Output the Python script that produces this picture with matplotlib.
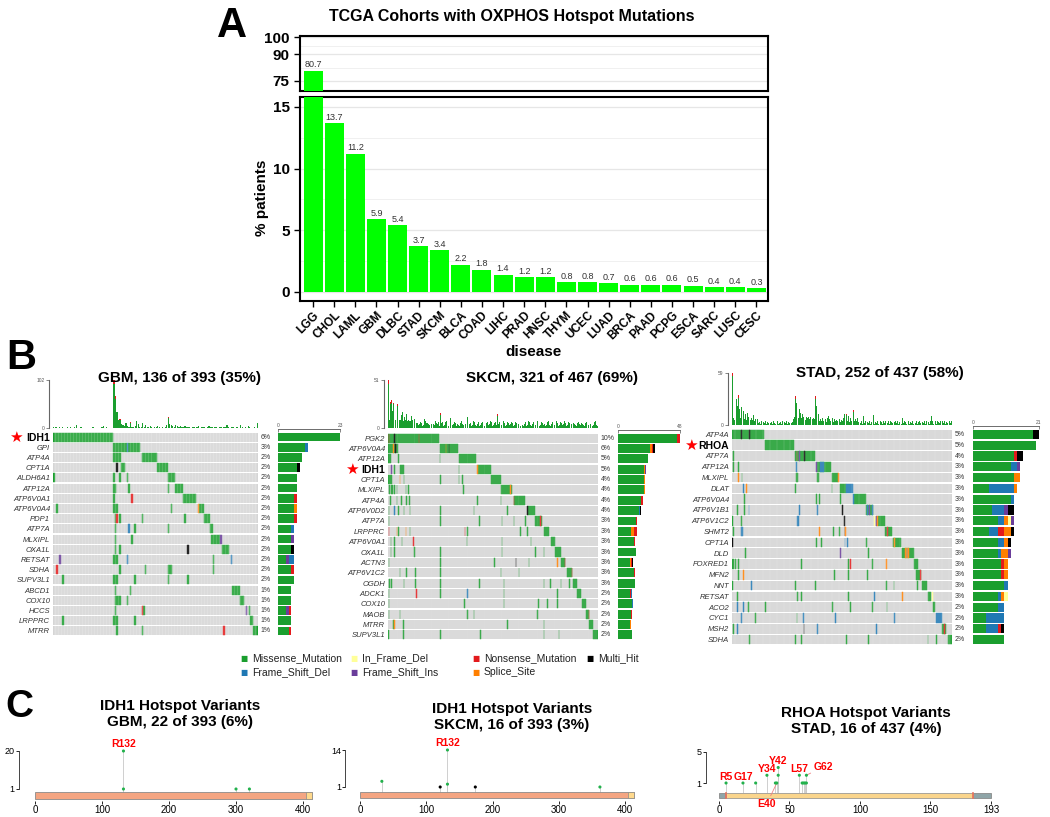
import re
import numpy as np
import matplotlib
matplotlib.use("Agg")
import matplotlib.pyplot as plt
from matplotlib.patches import Rectangle

plt.rcParams['font.family'] = ['Liberation Sans', 'DejaVu Sans']

# ---------------- Panel A data ----------------
diseases = ["LGG", "CHOL", "LAML", "GBM", "DLBC", "STAD", "SKCM", "BLCA", "COAD", "LIHC", "PRAD",
            "HNSC", "THYM", "UCEC", "LUAD", "BRCA", "PAAD", "PCPG", "ESCA", "SARC", "LUSC", "CESC"]
pct_patients = [80.7, 13.7, 11.2, 5.9, 5.4, 3.7, 3.4, 2.2, 1.8, 1.4, 1.2,
                1.2, 0.8, 0.8, 0.7, 0.6, 0.6, 0.6, 0.5, 0.4, 0.4, 0.3]

# ---------------- Panel B data ----------------
# codes: M Missense, D Frame_Shift_Del, I Frame_Shift_Ins, F In_Frame_Del,
#        N Nonsense, S Splice_Site, H Multi_Hit
gbm_n = 136
gbm_genes = ["IDH1", "GPI", "ATP4A", "CPT1A", "ALDH6A1", "ATP12A", "ATP6V0A1", "ATP6V0A4", "PDP1",
             "ATP7A", "MLXIPL", "OXA1L", "RETSAT", "SDHA", "SUPV3L1", "ABCD1", "COX10", "HCCS",
             "LRPPRC", "MTRR"]
gbm_pct = [6, 3, 2, 2, 2, 2, 2, 2, 2, 2, 2, 2, 2, 2, 2, 1, 1, 1, 1, 1]
gbm_rows = ["0-40M", "40-49M 49D 50-58M", "40-45M 59-69M", "42H 45-48M 69-76M",
            "0M 40M 44M 49M 76-81M", "40-42M 50M 76M 81-86M", "40M 52N 86-95M",
            "2M 40-43M 78M 96S 97-100M", "41M 42N 44M 59M 87M 100-104M", "41M 50D 54M 76M 104-106M",
            "41M 52M 105-111M 111I", "41M 44M 89H 112-117M", "4I 40-43M 49D 106M 118D",
            "2N 44M 61M 76-79M 106M", "6M 40-43M 54M 76M 89M", "41M 51M 119-124M",
            "41-45M 49M 124-127M", "41M 59N 60M 128I 130M", "6M 40-43M 54M 131-133M",
            "42M 59M 113N 133-136M"]
gbm_bars = ["M23", "M10 D1", "M9", "M7 H1", "M7", "M7", "M6 N1", "M6 S1", "M6 N1", "M5 D1",
            "M5 I1", "M5 H1", "M3 I1 D2", "M5 N1", "M6", "M5", "M5", "M3 I1 N1", "M5", "M4 N1"]
gbm_tmb = [2, 3, 2, 1, 2, 1, 2, 1, 1, 2, 1, 2, 1, 1, 2, 6, 1, 1, 2, 1,
           1, 1, 1, 1, 1, 1, 2, 1, 1, 1, 1, 1, 2, 4, 1, 2, 1, 1, 1, 1,
           102, 68, 35, 18, 20, 8, 6, 5, 10, 4, 3, 12, 3, 2, 4, 14, 8, 2, 3, 10,
           2, 6, 3, 2, 5, 2, 1, 3, 2, 4, 2, 1, 3, 1, 2, 6, 24, 9, 6, 5,
           3, 6, 4, 2, 5, 2, 3, 4, 3, 2, 2, 1, 3, 2, 1, 2, 4, 1, 2, 3,
           2, 1, 3, 5, 2, 2, 1, 3, 2, 1, 2, 2, 1, 3, 2, 6, 2, 1, 3, 2,
           1, 2, 2, 1, 6, 2, 1, 2, 1, 4, 2, 1, 1, 2, 1, 10]
gbm_tmb_top = {40: 8, 41: 6, 44: 2, 51: 2, 76: 3}
gbm_tmb_max = 102
gbm_bar_max = 23

skcm_n = 321
skcm_genes = ["PGK2", "ATP6V0A4", "ATP12A", "IDH1", "CPT1A", "MLXIPL", "ATP4A", "ATP6V0D2", "ATP7A",
              "LRPPRC", "ATP6V0A1", "OXA1L", "ACTN3", "ATP6V1C2", "OGDH", "ADCK1", "COX10", "MAOB",
              "MTRR", "SUPV3L1"]
skcm_pct = [10, 6, 5, 5, 4, 4, 4, 4, 3, 3, 3, 3, 3, 3, 3, 2, 2, 2, 2, 2]
skcm_rows = ["0-78M 1N 9H 47N", "0-16M 8S 11H 79-107M 88S 93H", "0-4M 16M 79M 108-135M",
             "5I 9-11M 18-24M 108M 136S 137-157M", "0-6M 18S 24M 80M 108M 113M 158-173M",
             "1-3M 5-7M 9-11M 13M 27M 30-32M 115M 173-190M 187S",
             "3M 13M 20M 28M 32M 136M 172M 192N 193-210M",
             "1M 9D 16M 24M 33M 80M 131M 182M 213H 214-225M",
             "1M 80M 139M 174M 192M 210M 225-236M 233N",
             "1N 13S 16M 27S 33M 117N 121M 202M 213M 238-246M",
             "4M 9M 21M 38N 120M 174M 218M 249-256M", "4M 9M 40M 80M 174M 225M 238M 256-264M",
             "1M 80M 162M 195H 215M 259S 264-271M 270N", "18M 28M 42M 80M 172M 200M 273-282M 281N",
             "1-3M 5M 24M 42M 80M 139M 177M 238M 248M 264M 277M 283-289M",
             "1M 43N 80M 121D 177M 259M 289-295M", "1M 116M 177M 230M 243M 259M 296-303M",
             "1M 18M 121M 131M 228M 303-308M 307N", "8M 9S 23M 182M 238M 307-314M",
             "0M 23M 80M 141M 238M 261M 314-321M"]
skcm_bars = ["M46 N2", "M25 S1 N1 H2", "M23", "M20 S1 I1", "M20 S1", "M20 S1", "M18 N1", "M16 D1 H1",
             "M14 N1", "M10 S2 N3", "M12 N1", "M14", "M9 S1 N1 H1", "M12 N1", "M13", "M9 N1 D1",
             "M11 D1", "M10 N1", "M9 S1", "M11"]
skcm_tmb_digits = ["9999899989", "9989899898", "9887878787", "6878767867", "4635253746",
                   "3524364753", "5463524354", "6372543625", "3546253647", "3524362537",
                   "4635254362", "5374635243", "5362435263", "7463524362", "5354637243",
                   "5263547362", "4352635243", "6253647352", "4362537463", "5243625364",
                   "3524635243", "6253746352", "4362536473", "5243625364", "2536473524",
                   "3625364735", "2436253647", "3524362536", "4735243625", "3647352436",
                   "2536473524", "3625364735", "2"]
skcm_tmb_peaks = {0: 51, 3: 28, 4: 22, 5: 30, 6: 18, 8: 27, 10: 20, 12: 16, 14: 25, 16: 15,
                  18: 22, 20: 14, 22: 17, 25: 12, 28: 15, 30: 11, 35: 13, 40: 10, 55: 10,
                  80: 16, 95: 11, 121: 12, 140: 10, 167: 15, 200: 12, 238: 18, 261: 12, 290: 10}
skcm_tmb_top = {0: 4, 3: 2, 5: 3, 8: 2, 14: 2, 80: 2, 167: 2, 238: 3, 261: 2}
skcm_tmb_max = 51
skcm_bar_max = 48

stad_n = 252
stad_genes = ["ATP4A", "RHOA", "ATP7A", "ATP12A", "MLXIPL", "DLAT", "ATP6V0A4", "ATP6V1B1",
              "ATP6V1C2", "SHMT2", "CPT1A", "DLD", "FOXRED1", "MFN2", "NNT", "RETSAT", "ACO2",
              "CYC1", "MSH2", "SDHA"]
stad_pct = [5, 5, 4, 3, 3, 3, 3, 3, 3, 3, 3, 3, 3, 3, 3, 3, 2, 2, 2, 2]
stad_rows = ["0-37M 10H 20H", "38-71M", "1M 72-95M 74N 77I 83H",
             "1M 7M 73D 96I 97-113M 101-105D", "7S 11M 73-76M 97-100M 114-121M 121S",
             "13D 16S 72M 114M 124-131M 131-139D", "14M 96M 100M 124M 139D 140-153M",
             "6M 14M 19D 77D 97D 126H 154-161M 155D 157I 160D",
             "0M 10M 74-77D 128H 163F 165I 166S 167-175M",
             "1M 10-13D 100S 116M 123M 129H 130S 175-183M 178N",
             "0H 96M 102M 129-130D 132D 154M 184-194M 186S",
             "15M 124I 156M 195-208M 198-203S 200D",
             "0-2M 4M 7M 79M 133M 135N 160M 176S 209-213M",
             "7M 13S 117M 133M 155M 211-217M 215N",
             "0M 22D 72M 95M 176M 185M 212M 218-223M",
             "6M 74-76M 79M 133M 163D 195S 224-228M 229F",
             "6D 13D 18M 38M 115M 135M 160M 177M 230-233M",
             "10D 26M 74M 81D 118D 186D 234-240D",
             "1M 6D 82H 97D 165D 241-245M 243N",
             "20M 72M 79M 131M 156M 224M 234M 247-252M"]
stad_bars = ["M19 H2", "M20", "M13 N1 H2", "M12 D2 I1", "M13 S2", "M5 D8 S1", "M12 D1",
             "M6 D4 I1 H2", "M8 D2 S1 F1 I1", "M5 D3 N2 S2 H1", "M8 D2 S1 H1", "M8 D1 S2 I1",
             "M9 N1 S1", "M9 N1 S1", "M10 D1", "M8 D1 S1 F1", "M8 D2", "M4 D6", "M4 D4 N1 H1",
             "M10"]
stad_tmb_digits = ["9868987998", "7968796897", "9686757867", "2314213241", "3214231421",
                   "3241231421", "3241321423", "7989878968", "7978698979", "8678796787",
                   "5748564738", "5746583746", "5847365847", "5647385746", "5748335241",
                   "3241532413", "5241324152", "4315241324", "1532413524", "1324152431",
                   "5241324153", "2413524132", "4152431524", "1324153241", "3524132415", "24"]
stad_tmb_peaks = {0: 59, 5: 30, 6: 22, 7: 34, 8: 18, 10: 20, 11: 14, 13: 16, 15: 12, 17: 14,
                  19: 10, 24: 11, 72: 33, 73: 25, 74: 20, 75: 24, 77: 18, 78: 14, 80: 12,
                  95: 33, 96: 22, 97: 15, 99: 12, 110: 10, 128: 12, 131: 13, 133: 10, 139: 17,
                  146: 12, 150: 10, 162: 11, 176: 10, 195: 8, 228: 10, 232: 9}
stad_tmb_top = {0: 3, 7: 3, 72: 3, 95: 3, 139: 2, 131: 2}
stad_tmb_max = 59
stad_bar_max = 21

legend_labels = ["Missense_Mutation", "In_Frame_Del", "Nonsense_Mutation", "Multi_Hit",
                 "Frame_Shift_Del", "Frame_Shift_Ins", "Splice_Site"]
legend_codes = ["M", "F", "N", "H", "D", "I", "S"]

# ---------------- Panel C data ----------------
idh1_gbm_pos = [132, 132, 300, 320]
idh1_gbm_cnt = [20, 1, 1, 1]
idh1_gbm_type = ["M", "M", "M", "M"]
idh1_skcm_pos = [33, 121, 132, 132, 174, 362]
idh1_skcm_cnt = [3, 1, 14, 2, 1, 1]
idh1_skcm_type = ["M", "H", "M", "M", "H", "M"]
rhoa_stad_pos = [5, 17, 26, 34, 40, 41, 42, 42, 57, 59, 60, 61, 62, 62]
rhoa_stad_cnt = [1, 1, 1, 2, 1, 1, 2, 3, 2, 1, 1, 1, 1, 2]
rhoa_stad_type = ["M"] * 14
idh1_len = 414
rhoa_len = 193

COL = {'M': '#1A9E2E', 'D': '#1F78B4', 'I': '#6A3D9A', 'F': '#FFFF99',
       'N': '#E31A1C', 'S': '#FF7F00', 'H': '#000000'}
GRAY = '#D5D5D5'

W, H = 1050, 817
fig = plt.figure(figsize=(W / 100, H / 100), dpi=100)


def px_axes(x0, y0, x1, y1):
    return fig.add_axes([x0 / W, 1 - y1 / H, (x1 - x0) / W, (y1 - y0) / H])


def ftext(x, y, s, **kw):
    return fig.text(x / W, 1 - y / H, s, **kw)


# ================= Panel A =================
ftext(232, 26, "A", fontsize=30, fontweight='bold', ha='center', va='center')
ftext(512, 17, "TCGA Cohorts with OXPHOS Hotspot Mutations", fontsize=11.5, fontweight='bold',
      ha='center', va='center')
axT = px_axes(300, 36, 768, 91)
axB = px_axes(300, 97, 768, 301)
xs = np.arange(len(diseases))
for ax in (axT, axB):
    ax.bar(xs, pct_patients, width=0.9, color='#00FF00', zorder=3)
    ax.set_xlim(-0.62, len(diseases) - 0.45)
    for s in ax.spines.values():
        s.set_linewidth(1.5)
    ax.tick_params(axis='y', labelsize=11, length=4, width=1)
axT.set_ylim(69, 100.6)
axT.set_yticks([75, 90, 100])
axT.set_yticks([82.5, 95], minor=True)
axT.set_xticks([])
axB.set_ylim(-0.73, 15.8)
axB.set_yticks([0, 5, 10, 15])
axB.set_yticks([2.5, 7.5, 12.5], minor=True)
for ax in (axT, axB):
    ax.grid(axis='y', which='major', color='#E6E6E6', lw=0.9, zorder=0)
    ax.grid(axis='y', which='minor', color='#F0F0F0', lw=0.7, zorder=0)
    ax.tick_params(axis='y', which='minor', length=0)
    for lab in ax.get_yticklabels():
        lab.set_fontweight('bold')
axB.set_xticks(xs)
axB.set_xticklabels(diseases, rotation=45, ha='right', rotation_mode='anchor',
                    fontsize=8.5, fontweight='bold')
axB.tick_params(axis='x', length=4, width=1, pad=2)
for i, v in enumerate(pct_patients):
    ax = axT if v > 15.8 else axB
    ax.annotate(f"{v}", (i, v), xytext=(0, 1), textcoords='offset points', ha='center',
                va='bottom', fontsize=6.5, color='#333333')
ftext(534, 352, "disease", fontsize=11, fontweight='bold', ha='center', va='center')
ftext(262, 198, "% patients", fontsize=11, fontweight='bold', ha='center', va='center',
      rotation=90)

# ================= Panel B =================
ftext(21, 358, "B", fontsize=30, fontweight='bold', ha='center', va='center')


def parse_row(s):
    out = []
    for a, b, c in re.findall(r'(\d+)(?:-(\d+))?([A-Z])', s):
        a = int(a)
        b = int(b) if b else a + 1
        out.append((a, b, c))
    out.sort(key=lambda t: 0 if t[2] == 'M' else 1)
    return out


def oncoplot(n, genes, pcts, rows, bars, tmb, tmb_top, tmb_max, bar_max, star_gene,
             title, title_xy, tmb_box, mat_box, bar_box, star_x, vl_alpha, vl_lw):
    ng = len(genes)
    ftext(title_xy[0], title_xy[1], title, fontsize=11, fontweight='bold', ha='center',
          va='center')
    # matrix
    axM = px_axes(*mat_box)
    axM.set_xlim(0, n)
    axM.set_ylim(ng, 0)
    for r in range(ng):
        axM.add_patch(Rectangle((0, r + 0.06), n, 0.88, facecolor=GRAY, lw=0, zorder=1))
        for a, b, c in parse_row(rows[r]):
            axM.add_patch(Rectangle((a, r + 0.06), b - a, 0.88, facecolor=COL[c],
                                    edgecolor=COL[c], lw=0.35, zorder=2))
    axM.vlines(np.arange(1, n), 0, ng, color='white', lw=vl_lw, alpha=vl_alpha, zorder=3)
    for s in axM.spines.values():
        s.set_visible(False)
    axM.set_xticks([])
    axM.set_yticks(np.arange(ng) + 0.5)
    axM.set_yticklabels(genes)
    axM.tick_params(axis='y', length=0, pad=2)
    for lab, g in zip(axM.get_yticklabels(), genes):
        if g == star_gene:
            lab.set_fontsize(7.5)
            lab.set_fontweight('bold')
            lab.set_color('black')
        else:
            lab.set_fontsize(5.5)
            lab.set_fontstyle('italic')
            lab.set_color('#333333')
    for r, p in enumerate(pcts):
        axM.annotate(f"{p}%", (n, r + 0.5), xytext=(2, 0), textcoords='offset points',
                     fontsize=5, va='center', ha='left', color='#333333', annotation_clip=False)
    si = genes.index(star_gene)
    rh = (mat_box[3] - mat_box[1]) / ng
    ftext(star_x, mat_box[1] + (si + 0.5) * rh, "\u2605", color='red', fontsize=11,
          ha='center', va='center', family=['DejaVu Sans'])
    # right bars
    axR = px_axes(*bar_box)
    axR.set_xlim(0, bar_max)
    axR.set_ylim(ng, 0)
    for r, comp in enumerate(bars):
        left = 0
        for tok in comp.split():
            c, k = tok[0], int(tok[1:])
            axR.barh(r + 0.5, k, left=left, height=0.86, color=COL[c], lw=0, clip_on=False)
            left += k
    for k in ('left', 'right', 'bottom'):
        axR.spines[k].set_visible(False)
    axR.spines['top'].set_color('#555555')
    axR.spines['top'].set_linewidth(0.6)
    axR.spines['top'].set_position(('outward', 2))
    axR.set_yticks([])
    axR.xaxis.tick_top()
    axR.set_xticks([0, bar_max])
    axR.tick_params(axis='x', labelsize=3.5, length=2, width=0.5, direction='in', pad=1,
                    colors='#555555')
    # tmb
    axU = px_axes(*tmb_box)
    vals = np.array(tmb, dtype=float)
    top = np.array([tmb_top.get(i, 0) for i in range(len(vals))], dtype=float)
    base = vals - top
    idx = np.arange(len(vals)) + 0.5
    axU.bar(idx, base, width=0.85, color=COL['M'], lw=0)
    axU.bar(idx, top, bottom=base, width=0.85, color=COL['N'], lw=0)
    axU.set_xlim(0, n)
    axU.set_ylim(0, tmb_max)
    for k in ('top', 'right', 'bottom'):
        axU.spines[k].set_visible(False)
    axU.spines['left'].set_color('#666666')
    axU.spines['left'].set_linewidth(0.8)
    axU.spines['left'].set_position(('outward', 3))
    axU.set_xticks([])
    axU.set_yticks([0, tmb_max])
    axU.tick_params(axis='y', labelsize=3.5, length=2, width=0.5, pad=1, colors='#555555')
    axU.axhline(0, color='#7FCF7F', lw=0.6)


def digits_to_tmb(chunks, peaks):
    v = [int(ch) for ch in "".join(chunks)]
    for k, h in peaks.items():
        v[k] = h
    return v


oncoplot(gbm_n, gbm_genes, gbm_pct, gbm_rows, gbm_bars, gbm_tmb, gbm_tmb_top, gbm_tmb_max,
         gbm_bar_max, "IDH1", "GBM, 136 of 393 (35%)", (180, 378),
         (53, 380, 258, 428), (53, 432, 258, 636), (278, 432, 340, 636), 16, 0.7, 0.3)
oncoplot(skcm_n, skcm_genes, skcm_pct, skcm_rows, skcm_bars,
         digits_to_tmb(skcm_tmb_digits, skcm_tmb_peaks), skcm_tmb_top, skcm_tmb_max,
         skcm_bar_max, "IDH1", "SKCM, 321 of 467 (69%)", (552, 378),
         (388, 380, 598, 428), (388, 433, 598, 640), (618, 433, 680, 640), 352, 0.35, 0.2)
oncoplot(stad_n, stad_genes, stad_pct, stad_rows, stad_bars,
         digits_to_tmb(stad_tmb_digits, stad_tmb_peaks), stad_tmb_top, stad_tmb_max,
         stad_bar_max, "RHOA", "STAD, 252 of 437 (58%)", (880, 373),
         (732, 373, 952, 425), (732, 429, 952, 645), (973, 429, 1039, 645), 691, 0.4, 0.25)

# legend
leg_xy = [(244, 658), (354, 658), (476, 658), (590, 658), (244, 672), (354, 672), (476, 672)]
for (lx, ly), lab, c in zip(leg_xy, legend_labels, legend_codes):
    ftext(lx, ly, "\u25A0", color=COL[c], fontsize=5.5, ha='center', va='center',
          family=['DejaVu Sans'])
    ftext(lx + 8, ly, lab, fontsize=7.5, ha='left', va='center', color='#222222')

# ================= Panel C =================
ftext(19, 707, "C", fontsize=28, fontweight='bold', ha='center', va='center')


def lollipop(box, xlim, ylim, yticks, spine_out, xticks, prot_len, bar_y, pos, cnt, typ,
             title, title_xy, domain=None, domain_color='#F4A582', base_color='#F4A582',
             tail=None):
    ftext(title_xy[0], title_xy[1], title, fontsize=11, fontweight='bold', ha='center',
          va='center', linespacing=1.15)
    ax = px_axes(*box)
    ax.set_xlim(*xlim)
    ax.set_ylim(*ylim)
    ax.add_patch(Rectangle((0, bar_y[0]), prot_len, bar_y[1] - bar_y[0], facecolor=base_color,
                           edgecolor='#8A8A8A', lw=0.6, zorder=2))
    if domain is not None:
        ax.add_patch(Rectangle((domain[0], bar_y[0]), domain[1] - domain[0],
                               bar_y[1] - bar_y[0], facecolor=domain_color,
                               edgecolor='#A0A0A0', lw=0.5, zorder=3))
        for dx in domain:
            ax.plot([dx, dx], bar_y, color='#E8705A', lw=1.2, zorder=4)
    if tail is not None:
        ax.add_patch(Rectangle((tail[0], bar_y[0]), tail[1] - tail[0], bar_y[1] - bar_y[0],
                               facecolor='#FFD98C', edgecolor='#8A8A8A', lw=0.5, zorder=3))
    for p, c, t in zip(pos, cnt, typ):
        ax.plot([p, p], [bar_y[1], c], color='#C8C8C8', lw=0.6, zorder=1)
    ax.scatter(pos, cnt, s=5, c=[COL[t] if t != 'M' else '#22B14C' for t in typ], zorder=5,
               lw=0)
    for k in ('top', 'right', 'bottom'):
        ax.spines[k].set_visible(False)
    ax.spines['left'].set_bounds(yticks[0], yticks[-1])
    ax.spines['left'].set_position(('outward', spine_out))
    ax.spines['left'].set_color('#444444')
    ax.spines['left'].set_linewidth(0.7)
    ax.set_yticks(yticks)
    ax.tick_params(axis='y', labelsize=6.5, length=2, width=0.6, pad=1)
    ax.set_xticks(xticks)
    ax.tick_params(axis='x', labelsize=7, length=2, width=0.6, pad=1)
    return ax


axg = lollipop((30, 745, 316, 801), (-7.5, 419.4), (-5, 23), [1, 20], 8, [0, 100, 200, 300, 400],
               idh1_len, (-4, -0.5), idh1_gbm_pos, idh1_gbm_cnt, idh1_gbm_type,
               "IDH1 Hotspot Variants\nGBM, 22 of 393 (6%)", (180, 714), tail=(405, idh1_len))
axg.annotate("R132", (132, 20), xytext=(0, 1.5), textcoords='offset points', ha='center',
             va='bottom', color='red', fontsize=7.5, fontweight='bold', annotation_clip=False)

axs = lollipop((355, 745, 645, 801), (-7.5, 430), (-3.92, 15.76), [1, 14], 7,
               [0, 100, 200, 300, 400], idh1_len, (-2.87, -0.76), idh1_skcm_pos, idh1_skcm_cnt,
               idh1_skcm_type, "IDH1 Hotspot Variants\nSKCM, 16 of 393 (3%)", (512, 717),
               tail=(405, idh1_len))
axs.annotate("R132", (132, 14), xytext=(0, 1.5), textcoords='offset points', ha='center',
             va='bottom', color='red', fontsize=7.5, fontweight='bold', annotation_clip=False)

axr = lollipop((714, 745, 996, 801), (-3.55, 196.5), (-1.32, 5.9), [1, 5], 6,
               [0, 50, 100, 150, 193], rhoa_len, (-0.94, -0.29), rhoa_stad_pos, rhoa_stad_cnt,
               rhoa_stad_type, "RHOA Hotspot Variants\nSTAD, 16 of 437 (4%)", (866, 721),
               domain=(5, 180), domain_color='#FAD58C', base_color='#8FA5A8')
for lab, (x0, y0) in [("R5", (5, 1)), ("G17", (17, 1)), ("Y34", (34, 2)), ("Y42", (42, 3)),
                      ("L57", (57, 2))]:
    axr.annotate(lab, (x0, y0), xytext=(0, 1), textcoords='offset points', ha='center',
                 va='bottom', color='red', fontsize=7.5, fontweight='bold',
                 annotation_clip=False)
axr.annotate("G62", (62, 2), xytext=(67, 3.1), ha='left', va='center', color='red',
             fontsize=7.5, fontweight='bold', annotation_clip=False,
             arrowprops=dict(arrowstyle='-', color='#F08080', lw=0.6, shrinkA=0, shrinkB=0))
axr.annotate("E40", (41, 1), xytext=(34, -1.65), ha='center', va='center', color='red',
             fontsize=7.5, fontweight='bold', annotation_clip=False,
             arrowprops=dict(arrowstyle='-', color='#F08080', lw=0.6, shrinkA=0, shrinkB=0))

fig.savefig("out.png", dpi=100)
